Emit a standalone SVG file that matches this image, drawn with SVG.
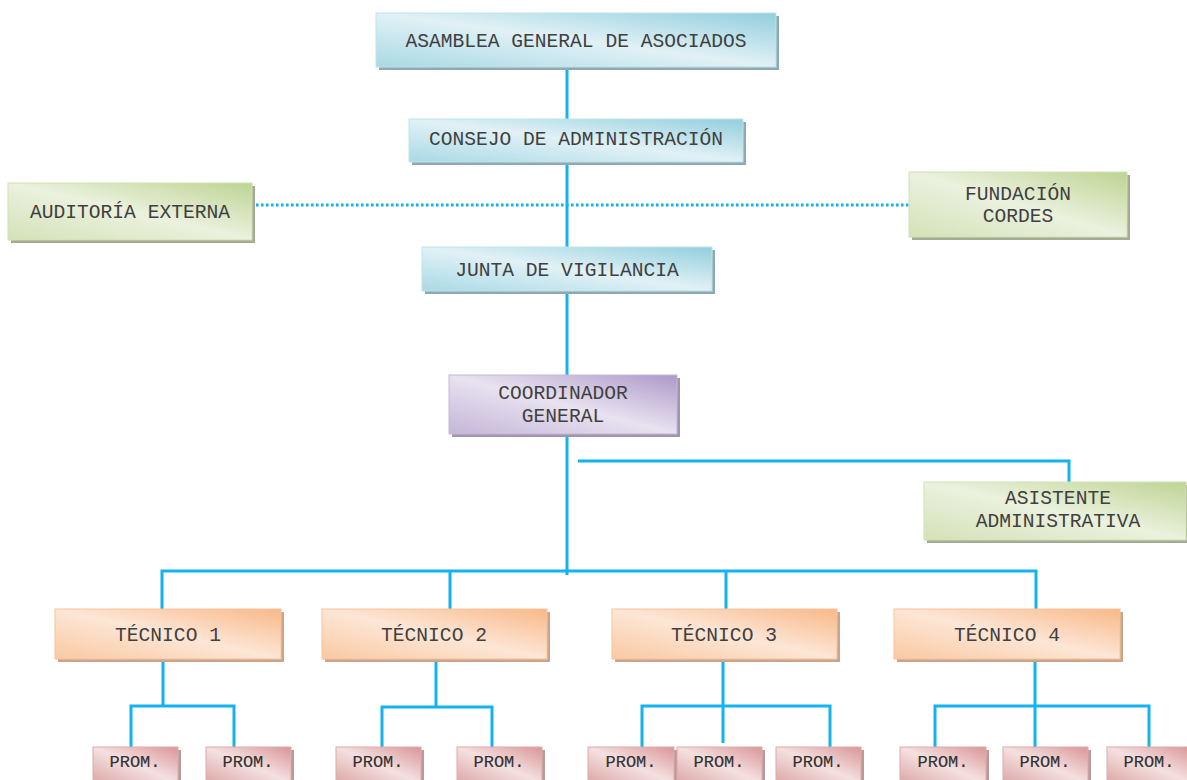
<svg xmlns="http://www.w3.org/2000/svg" width="1187" height="780" viewBox="0 0 1187 780">
  <style>
    .lbl { font-family: "Courier New", "Nimbus Mono PS", "FreeMono", "Liberation Mono", monospace; font-size: 19.6px; fill: #404040; text-anchor: middle; }
    .prom { font-family: "Courier New", "Nimbus Mono PS", "FreeMono", "Liberation Mono", monospace; font-size: 17px; fill: #303030; text-anchor: middle; stroke: #303030; stroke-width: 0.15; }
    .link { fill: none; stroke: #12b4f0; stroke-width: 3; }
    .dotted { fill: none; stroke: #12b4f0; stroke-width: 3; stroke-dasharray: 2.6 2.4; }
    .blue { fill: url(#gBlue); stroke: #bfe3ec; stroke-width: 1; }
    .green { fill: url(#gGreen); stroke: #d2e2b4; stroke-width: 1; }
    .purple { fill: url(#gPurple); stroke: #c5b7d6; stroke-width: 1; }
    .orange { fill: url(#gOrange); stroke: #f7c39b; stroke-width: 1; }
    .pink { fill: url(#gPink); stroke: #e2aaa9; stroke-width: 1; }
    .sh-blue { fill: #8fa9b1; }
    .sh-green { fill: #a3ab93; }
    .sh-purple { fill: #a195ad; }
    .sh-orange { fill: #c8a58c; }
    .sh-pink { fill: #b79a9a; }
  </style>
  <defs>
    <linearGradient id="gBlue" x1="1" y1="0" x2="0" y2="1">
      <stop offset="0" stop-color="#92cedd"/>
      <stop offset="0.5" stop-color="#e1f1f6"/>
      <stop offset="1" stop-color="#a9d9e5"/>
    </linearGradient>
    <linearGradient id="gGreen" x1="1" y1="0" x2="0" y2="1">
      <stop offset="0" stop-color="#bdd492"/>
      <stop offset="0.5" stop-color="#ebf1de"/>
      <stop offset="1" stop-color="#d3e2b8"/>
    </linearGradient>
    <linearGradient id="gPurple" x1="1" y1="0" x2="0" y2="1">
      <stop offset="0" stop-color="#ad98c9"/>
      <stop offset="0.5" stop-color="#e8e2f0"/>
      <stop offset="1" stop-color="#c4b6d8"/>
    </linearGradient>
    <linearGradient id="gOrange" x1="1" y1="0" x2="0" y2="1">
      <stop offset="0" stop-color="#f8b887"/>
      <stop offset="0.5" stop-color="#fde6d6"/>
      <stop offset="1" stop-color="#f9c9a2"/>
    </linearGradient>
    <linearGradient id="gPink" x1="1" y1="0" x2="0" y2="1">
      <stop offset="0" stop-color="#d99596"/>
      <stop offset="0.5" stop-color="#f4e0e0"/>
      <stop offset="1" stop-color="#dca6a6"/>
    </linearGradient>
  </defs>

  <rect width="1187" height="780" fill="#ffffff"/>

  <!-- connectors -->
  <g id="connectors">
    <path class="link" d="M567 68 V575"/>
    <path class="dotted" d="M256 205 H909"/>
    <path class="link" d="M578 461 H1069 V483"/>
    <path class="link" d="M162 610 V571 H1036 V610 M450 571 V610 M726 571 V610"/>
    <!-- técnico 1 -->
    <path class="link" d="M163 660 V706 M131 747 V706 H234 V747"/>
    <!-- técnico 2 -->
    <path class="link" d="M436 660 V707 M382 747 V707 H492 V747"/>
    <!-- técnico 3 -->
    <path class="link" d="M723 660 V743 M642 747 V706 H830 V747"/>
    <!-- técnico 4 -->
    <path class="link" d="M1035 660 V747 M935 747 V706 H1149 V747"/>
  </g>

  <g id="asamblea">
    <rect class="sh-blue" x="379" y="16" width="400" height="54"/>
    <rect class="blue" x="376" y="13" width="400" height="54"/>
    <text class="lbl" x="576" y="47">ASAMBLEA GENERAL DE ASOCIADOS</text>
  </g>

  <g id="consejo">
    <rect class="sh-blue" x="412" y="122" width="334" height="43"/>
    <rect class="blue" x="409" y="119" width="334" height="43"/>
    <text class="lbl" x="576" y="145">CONSEJO DE ADMINISTRACIÓN</text>
  </g>

  <g id="auditoria">
    <rect class="sh-green" x="11" y="186" width="244" height="57"/>
    <rect class="green" x="8" y="183" width="244" height="57"/>
    <text class="lbl" x="130" y="218">AUDITORÍA EXTERNA</text>
  </g>

  <g id="fundacion">
    <rect class="sh-green" x="912" y="175" width="218" height="65"/>
    <rect class="green" x="909" y="172" width="218" height="65"/>
    <text class="lbl" x="1018" y="200">FUNDACIÓN</text>
    <text class="lbl" x="1018" y="222">CORDES</text>
  </g>

  <g id="junta">
    <rect class="sh-blue" x="425" y="250" width="290" height="44"/>
    <rect class="blue" x="422" y="247" width="290" height="44"/>
    <text class="lbl" x="567" y="276">JUNTA DE VIGILANCIA</text>
  </g>

  <g id="coordinador">
    <rect class="sh-purple" x="452" y="378" width="228" height="59"/>
    <rect class="purple" x="449" y="375" width="228" height="59"/>
    <text class="lbl" x="563" y="399">COORDINADOR</text>
    <text class="lbl" x="563" y="422">GENERAL</text>
  </g>

  <g id="asistente">
    <rect class="sh-green" x="927" y="485" width="262" height="58"/>
    <rect class="green" x="924" y="482" width="262" height="58"/>
    <text class="lbl" x="1058" y="504">ASISTENTE</text>
    <text class="lbl" x="1058" y="527">ADMINISTRATIVA</text>
  </g>

  <g id="tecnico1">
    <rect class="sh-orange" x="58" y="612" width="226" height="50"/>
    <rect class="orange" x="55" y="609" width="226" height="50"/>
    <text class="lbl" x="168" y="641">TÉCNICO 1</text>
  </g>
  <g id="tecnico2">
    <rect class="sh-orange" x="325" y="612" width="225" height="50"/>
    <rect class="orange" x="322" y="609" width="225" height="50"/>
    <text class="lbl" x="434" y="641">TÉCNICO 2</text>
  </g>
  <g id="tecnico3">
    <rect class="sh-orange" x="615" y="612" width="225" height="50"/>
    <rect class="orange" x="612" y="609" width="225" height="50"/>
    <text class="lbl" x="724" y="641">TÉCNICO 3</text>
  </g>
  <g id="tecnico4">
    <rect class="sh-orange" x="897" y="612" width="226" height="50"/>
    <rect class="orange" x="894" y="609" width="226" height="50"/>
    <text class="lbl" x="1007" y="641">TÉCNICO 4</text>
  </g>

  <!-- promotores -->
  <g id="prom1a">
    <rect class="sh-pink" x="96" y="750" width="85" height="36"/>
    <rect class="pink" x="93" y="747" width="85" height="36"/>
    <text class="prom" x="135" y="767">PROM.</text>
  </g>
  <g id="prom1b">
    <rect class="sh-pink" x="209" y="750" width="85" height="36"/>
    <rect class="pink" x="206" y="747" width="85" height="36"/>
    <text class="prom" x="248" y="767">PROM.</text>
  </g>
  <g id="prom2a">
    <rect class="sh-pink" x="339" y="750" width="85" height="36"/>
    <rect class="pink" x="336" y="747" width="85" height="36"/>
    <text class="prom" x="378" y="767">PROM.</text>
  </g>
  <g id="prom2b">
    <rect class="sh-pink" x="460" y="750" width="85" height="36"/>
    <rect class="pink" x="457" y="747" width="85" height="36"/>
    <text class="prom" x="499" y="767">PROM.</text>
  </g>
  <g id="prom3a">
    <rect class="sh-pink" x="591" y="750" width="86" height="36"/>
    <rect class="pink" x="588" y="747" width="86" height="36"/>
    <text class="prom" x="631" y="767">PROM.</text>
  </g>
  <g id="prom3b">
    <rect class="sh-pink" x="680" y="750" width="85" height="36"/>
    <rect class="pink" x="677" y="747" width="85" height="36"/>
    <text class="prom" x="719" y="767">PROM.</text>
  </g>
  <g id="prom3c">
    <rect class="sh-pink" x="779" y="750" width="85" height="36"/>
    <rect class="pink" x="776" y="747" width="85" height="36"/>
    <text class="prom" x="818" y="767">PROM.</text>
  </g>
  <g id="prom4a">
    <rect class="sh-pink" x="903" y="750" width="86" height="36"/>
    <rect class="pink" x="900" y="747" width="86" height="36"/>
    <text class="prom" x="943" y="767">PROM.</text>
  </g>
  <g id="prom4b">
    <rect class="sh-pink" x="1006" y="750" width="85" height="36"/>
    <rect class="pink" x="1003" y="747" width="85" height="36"/>
    <text class="prom" x="1045" y="767">PROM.</text>
  </g>
  <g id="prom4c">
    <rect class="sh-pink" x="1110" y="750" width="85" height="36"/>
    <rect class="pink" x="1107" y="747" width="85" height="36"/>
    <text class="prom" x="1149" y="767">PROM.</text>
  </g>
</svg>
